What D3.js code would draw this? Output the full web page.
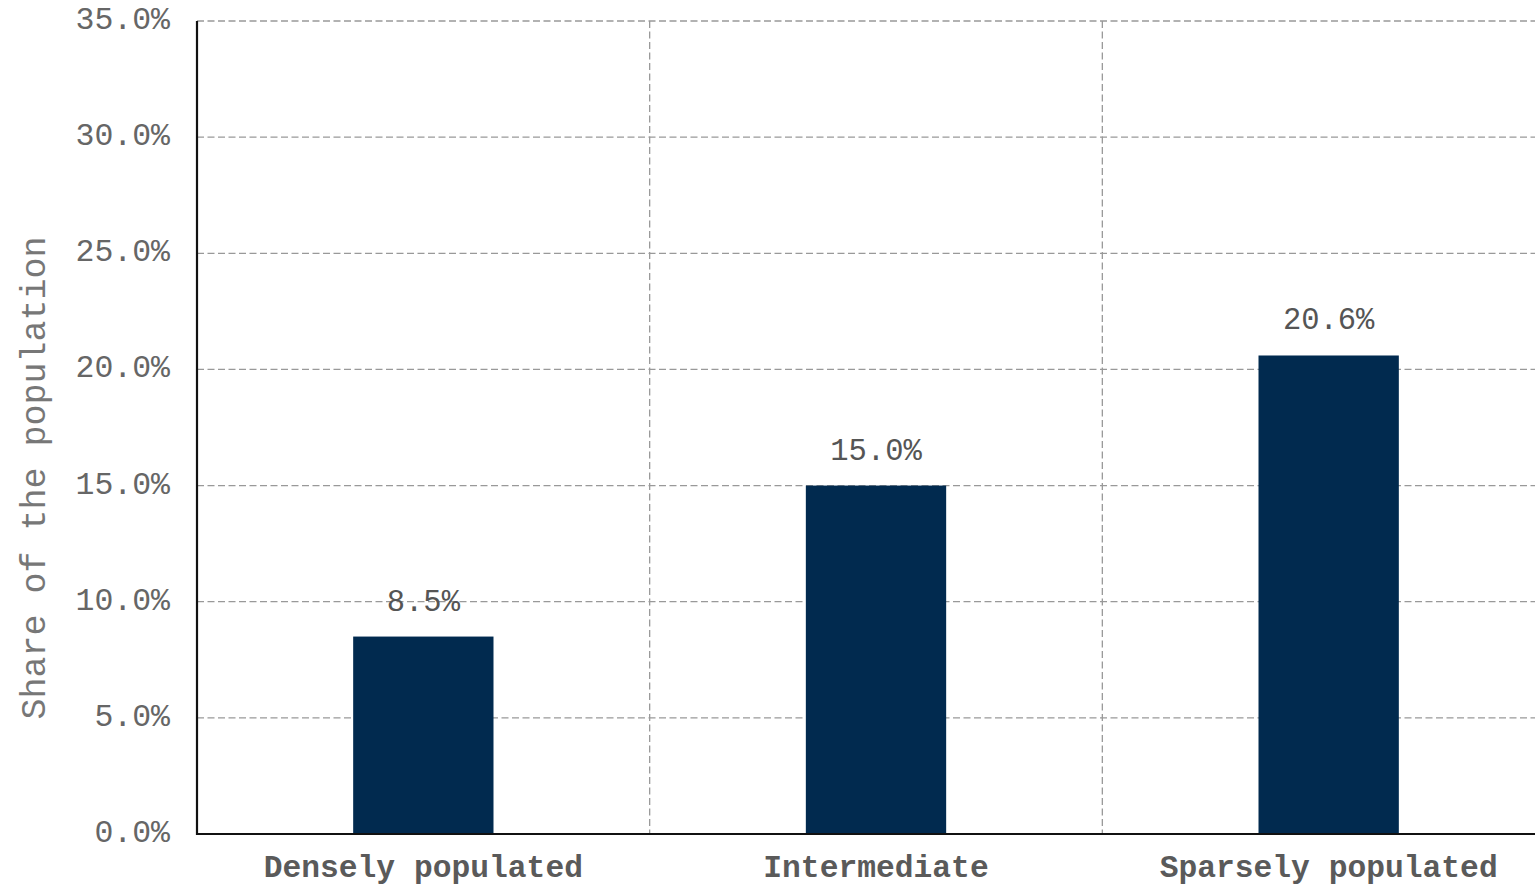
<!DOCTYPE html>
<html>
<head>
<meta charset="utf-8">
<script src="https://cdn.jsdelivr.net/npm/d3@7"></script>
<style>
  html, body { margin: 0; padding: 0; background: #fff; overflow: hidden; }
  svg { display: block; }
  text { font-family: "Liberation Mono", "DejaVu Sans Mono", monospace; }
</style>
</head>
<body>
<svg id="chart" width="1535" height="888"></svg>
<script>
const categories = ["Densely populated", "Intermediate", "Sparsely populated"];
const values = [8.5, 15.0, 20.6];
const yTicks = [0, 5, 10, 15, 20, 25, 30, 35];
const yLabel = "Share of the population";

const svg = d3.select("#chart");
const mLeft = 197, mRight = 1555, mTop = 21, mBottom = 834;

const x = d3.scaleBand().domain(categories).range([mLeft, mRight]).padding(0);
const y = d3.scaleLinear().domain([0, 35]).range([mBottom, mTop]);
const barW = x.bandwidth() * 0.31;
const fmt = d => d.toFixed(1) + "%";

// horizontal grid
svg.append("g").selectAll("line").data(yTicks).join("line")
  .attr("x1", mLeft).attr("x2", mRight)
  .attr("y1", d => y(d)).attr("y2", d => y(d))
  .attr("stroke", "#999").attr("stroke-width", 1.3).attr("stroke-dasharray", "7,3.5");

// vertical grid at band boundaries
svg.append("g").selectAll("line").data(categories.slice(1)).join("line")
  .attr("x1", d => x(d)).attr("x2", d => x(d))
  .attr("y1", mTop).attr("y2", mBottom)
  .attr("stroke", "#999").attr("stroke-width", 1.3).attr("stroke-dasharray", "7,3.5");

// bars
svg.append("g").selectAll("rect").data(values).join("rect")
  .attr("x", (d, i) => x(categories[i]) + x.bandwidth() / 2 - barW / 2)
  .attr("width", barW)
  .attr("y", d => y(d))
  .attr("height", d => y(0) - y(d))
  .attr("fill", "#012a4f");

// value labels
svg.append("g").selectAll("text").data(values).join("text")
  .attr("x", (d, i) => x(categories[i]) + x.bandwidth() / 2)
  .attr("y", d => y(d) - 26)
  .attr("text-anchor", "middle")
  .attr("font-size", 30.5)
  .attr("fill", "#555")
  .text(fmt);

// axes lines
svg.append("line").attr("x1", mLeft).attr("x2", mLeft).attr("y1", mTop).attr("y2", mBottom + 1)
  .attr("stroke", "#111").attr("stroke-width", 2.2);
svg.append("line").attr("x1", mLeft - 1).attr("x2", mRight).attr("y1", mBottom).attr("y2", mBottom)
  .attr("stroke", "#111").attr("stroke-width", 2.2);

// y tick labels
svg.append("g").selectAll("text").data(yTicks).join("text")
  .attr("x", 170)
  .attr("y", d => y(d) + 8)
  .attr("text-anchor", "end")
  .attr("font-size", 31.5)
  .attr("fill", "#666")
  .text(fmt);

// x tick labels
svg.append("g").selectAll("text").data(categories).join("text")
  .attr("x", d => x(d) + x.bandwidth() / 2)
  .attr("y", 877)
  .attr("text-anchor", "middle")
  .attr("font-size", 31.3)
  .attr("font-weight", "bold")
  .attr("fill", "#5a5a5a")
  .text(d => d);

// y axis label
svg.append("text")
  .attr("transform", `translate(45, 478) rotate(-90)`)
  .attr("text-anchor", "middle")
  .attr("font-size", 35)
  .attr("fill", "#777")
  .text(yLabel);
</script>
</body>
</html>
